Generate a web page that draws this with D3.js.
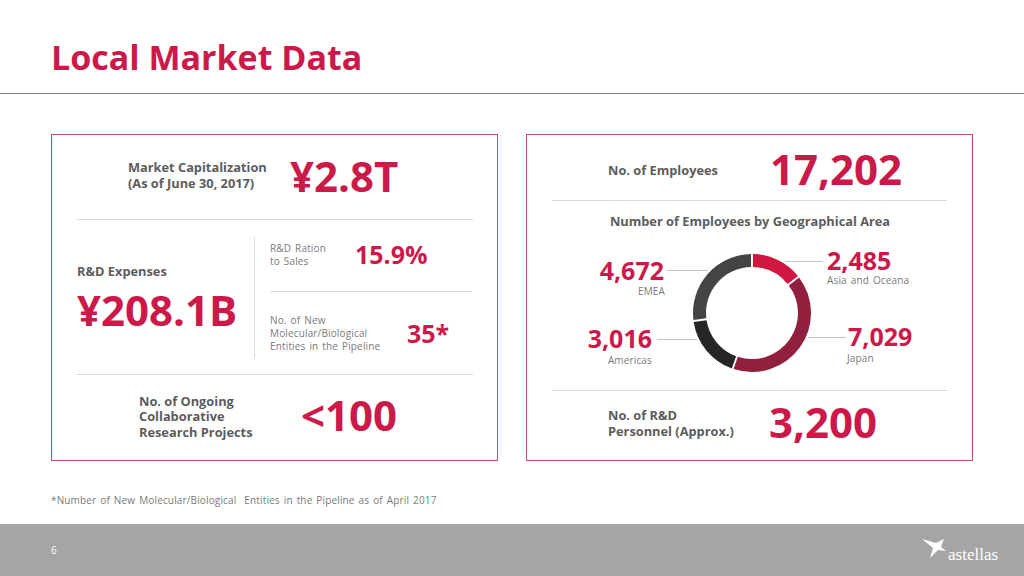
<!DOCTYPE html>
<html>
<head>
<meta charset="utf-8">
<script src="https://cdn.jsdelivr.net/npm/d3@7"></script>
<style>
  html, body { margin: 0; padding: 0; background: #fff; }
  svg { display: block; }
  text { font-family: "Open Sans", "Noto Sans", sans-serif; }
  .small { letter-spacing: 0.15px; word-spacing: 1.2px; white-space: pre; }
</style>
</head>
<body>
<svg id="chart"></svg>
<script>
// employees by area, clockwise from the top
const areaNames = ['Asia and Oceana', 'Japan', 'Americas', 'EMEA'];
const areaValues = [2485, 7029, 3016, 4672];

const width = 1024;
const height = 576;
const red = '#cb1a49';
const dark = '#5c5c5c';
const grey = '#7a7a7a';
const rule = '#d9d9d9';

const svg = d3.select('#chart').attr('width', width).attr('height', height);

function label(x, y, str, size, color, weight, anchor) {
  const t = svg.append('text')
    .attr('x', x)
    .attr('y', y)
    .attr('text-anchor', anchor || 'start')
    .attr('fill', color)
    .attr('font-size', size)
    .attr('font-weight', weight || 400)
    .text(str);
  if (size === 10) t.attr('class', 'small');
  return t;
}

function hline(x1, x2, y, color) {
  svg.append('line').attr('x1', x1).attr('x2', x2).attr('y1', y).attr('y2', y)
    .attr('stroke', color || rule).attr('stroke-width', 1);
}

// header
label(51, 70, 'Local Market Data', 34, red, 700);
hline(0, width, 93.5, '#8c7f84');

// panels
[[51.5, 134.5, 446, 326], [526.5, 134.5, 446, 326]].forEach(([x, y, w, h]) => {
  svg.append('rect').attr('x', x).attr('y', y).attr('width', w).attr('height', h)
    .attr('fill', '#fff').attr('stroke', '#b9566e').attr('stroke-width', 1);
});

// left panel
label(128, 172, 'Market Capitalization', 12.8, dark, 700);
label(128, 188, '(As of June 30, 2017)', 12.8, dark, 700);
label(290, 192, '¥2.8T', 42, red, 700);
hline(77, 473, 219.5);

label(77, 276, 'R&D Expenses', 12.8, dark, 700);
label(77, 326, '¥208.1B', 42, red, 700);
svg.append('line').attr('x1', 254.5).attr('x2', 254.5).attr('y1', 237).attr('y2', 358)
  .attr('stroke', rule);

label(270, 252, 'R&D Ration', 10, grey);
label(270, 265, 'to Sales', 10, grey);
label(355, 264, '15.9%', 25, red, 700);
hline(270, 472, 291.5);

label(270, 324, 'No. of New', 10, grey);
label(270, 337, 'Molecular/Biological', 10, grey);
label(270, 350, 'Entities in the Pipeline', 10, grey);
label(407, 343, '35*', 25, red, 700);
hline(77, 473, 374.5);

label(139, 406, 'No. of Ongoing', 12.8, dark, 700);
label(139, 421, 'Collaborative', 12.8, dark, 700);
label(139, 437, 'Research Projects', 12.8, dark, 700);
label(301, 431, '<100', 42, red, 700);

// right panel
label(608, 175, 'No. of Employees', 12.8, dark, 700);
label(770, 185, '17,202', 42, red, 700);
hline(552, 947, 200.5);
label(750, 226, 'Number of Employees by Geographical Area', 12.8, dark, 700, 'middle');

// donut
const cx = 752;
const cy = 313;
const outerR = 59;
const innerR = 46;
const colors = ['#d0173f', '#91203f', '#262626', '#444444'];

const pie = d3.pie().sort(null)(areaValues);
const arc = d3.arc().innerRadius(innerR).outerRadius(outerR).padAngle(0.025);

const ring = svg.append('g').attr('transform', `translate(${cx},${cy})`);
ring.selectAll('path')
  .data(pie)
  .enter()
  .append('path')
  .attr('d', arc)
  .attr('fill', (d, i) => colors[i]);

// callouts: value, name, leader line
const fmt = d3.format(',');
const callouts = [
  { vx: 827, vy: 270, nx: 827, ny: 284, anchor: 'start', lx1: 785, lx2: 823, ly: 261 },
  { vx: 848, vy: 346, nx: 847, ny: 362, anchor: 'start', lx1: 808, lx2: 846, ly: 337 },
  { vx: 652, vy: 348, nx: 652, ny: 364, anchor: 'end', lx1: 657, lx2: 697, ly: 339 },
  { vx: 664, vy: 280, nx: 665, ny: 295, anchor: 'end', lx1: 667, lx2: 708, ly: 270 }
];
callouts.forEach((c, i) => {
  hline(c.lx1, c.lx2, c.ly + 0.5, '#c4c4c4');
  label(c.vx, c.vy, fmt(areaValues[i]), 25, red, 700, c.anchor);
  label(c.nx, c.ny, areaNames[i], 10, grey, 400, c.anchor);
});

hline(552, 947, 390.5);
label(608, 420, 'No. of R&D', 12.8, dark, 700);
label(608, 436, 'Personnel (Approx.)', 12.8, dark, 700);
label(769, 438, '3,200', 42, red, 700);

// footnote
label(51, 504, '*Number of New Molecular/Biological  Entities in the Pipeline as of April 2017', 10, grey);

// footer band
svg.append('rect').attr('x', 0).attr('y', 524).attr('width', width).attr('height', 52).attr('fill', '#a5a5a5');
label(51, 554, '6', 10, '#fff');

// logo
svg.append('path')
  .attr('d', 'M922 539 L936 543 L944 539 L941 547 L946 551 L938 550 L930 558 L933 548 Z')
  .attr('fill', '#fff');
svg.append('text')
  .attr('x', 948).attr('y', 560)
  .attr('fill', '#fff')
  .attr('font-size', 17)
  .style('font-family', '"Liberation Serif", serif')
  .text('astellas');
</script>
</body>
</html>
